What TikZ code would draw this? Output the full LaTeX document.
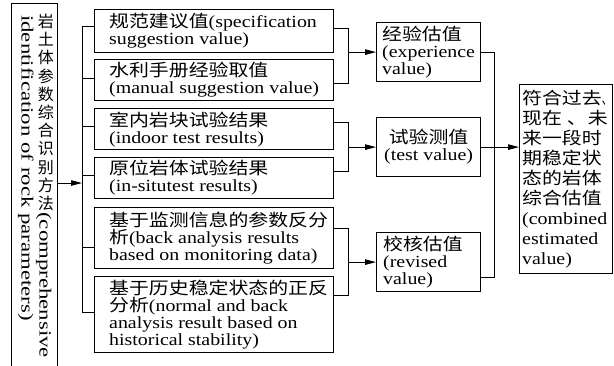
\documentclass[tikz,border=0pt]{standalone}
\usepackage{fontspec}
\usepackage{graphicx}
\setmainfont{Liberation Serif}[FakeStretch=1.17]
\newfontfamily\cjk{Noto Sans CJK SC}[FakeStretch=1.17]
\newfontfamily\lfont{Liberation Serif}[FakeStretch=1.34]
\newfontfamily\lcjk{Noto Sans CJK SC}
\usetikzlibrary{arrows.meta}
\newcommand\zh[1]{{\cjk #1}}
\newcommand\up[1]{\rotatebox[origin=c]{90}{\raisebox{0pt}[15.2pt][3pt]{\lcjk\fontsize{16pt}{16pt}\selectfont #1}}}
\begin{document}
\begin{tikzpicture}[x=1pt,y=-1pt,
  box/.style={draw, line width=1.2pt, inner sep=0pt, anchor=north west},
  txt/.style={inner sep=0pt, align=left, font=\fontsize{17pt}{17pt}\selectfont},
  conn/.style={line width=0.9pt},
  arr/.style={conn, -{Triangle[length=11pt,width=5.5pt]}}]
\useasboundingbox (0,0) rectangle (614,365);
% left box
\node[box, minimum width=46pt, minimum height=380pt] (L) at (11,3) {};
\node[rotate=-90, anchor=north west, inner sep=0pt, align=left,
      font=\lfont\fontsize{17pt}{18pt}\selectfont] (T) at (54,12)
 {\up{岩}\up{土}\up{体}\up{参}\up{数}\up{综}\up{合}\up{识}\up{别}\up{方}\up{法}(comprehensive\\\hspace*{3pt}identification of rock parameters)};
% middle boxes
\node[box, minimum width=239pt, minimum height=43pt] (b1) at (94,9) {};
\node[box, minimum width=239pt, minimum height=41pt] (b2) at (94,59) {};
\node[box, minimum width=239pt, minimum height=41pt] (b3) at (94,108) {};
\node[box, minimum width=239pt, minimum height=41pt] (b4) at (94,157) {};
\node[box, minimum width=239pt, minimum height=61pt] (b5) at (94,207) {};
\node[box, minimum width=239pt, minimum height=76pt] (b6) at (94,276) {};
\node[txt, anchor=west] (t1) at ([xshift=15pt]b1.west) {\zh{规范建议值}(specification\\suggestion value)};
\node[txt, anchor=west] (t2) at ([xshift=15pt]b2.west) {\zh{水利手册经验取值}\\(manual suggestion value)};
\node[txt, anchor=west] (t3) at ([xshift=15pt]b3.west) {\zh{室内岩块试验结果}\\(indoor test results)};
\node[txt, anchor=west] (t4) at ([xshift=15pt]b4.west) {\zh{原位岩体试验结果}\\(in-situtest results)};
\node[txt, anchor=west] (t5) at ([xshift=15pt]b5.west) {\zh{基于监测信息的参数反分}\\\zh{析}(back analysis results\\based on monitoring data)};
\node[txt, anchor=west] (t6) at ([xshift=15pt]b6.west) {\zh{基于历史稳定状态的正反}\\\zh{分析}(normal and back\\analysis result based on\\historical stability)};
% estimate boxes
\node[box, minimum width=104pt, minimum height=59pt] (exp) at (376,22) {};
\node[box, minimum width=104pt, minimum height=59pt] (tst) at (376,117) {};
\node[box, minimum width=104pt, minimum height=59pt] (rev) at (376,232) {};
\node[txt, anchor=west] (te) at ([xshift=6pt]exp.west) {\zh{经验估值}\\(experience\\value)};
\node[txt, align=center] (tt) at (tst.center) {\zh{试验测值}\\(test value)};
\node[txt, anchor=west] (tr) at ([xshift=7pt]rev.west) {\zh{校核估值}\\(revised\\value)};
% final box
\node[box, minimum width=93pt, minimum height=189pt] (fin) at (519,84) {};
\node[txt, anchor=west, font=\fontsize{17pt}{20pt}\selectfont] (tf) at ([xshift=3pt]fin.west)
 {\zh{符合过去}\scalebox{0.5}[1]{\zh{、}}\\\zh{现在}\hspace{5pt}\zh{、}\hspace{1pt}\zh{未}\\\zh{来一段时}\\\zh{期稳定状}\\\zh{态的岩体}\\\zh{综合估值}\\(combined\\estimated\\value)};
% connectors
\coordinate (bus) at (82,0);
\coordinate (br) at (348,0);
\coordinate (rb) at (494,0);
\coordinate (m) at (0,183);
\coordinate (l1) at ([yshift=4.5pt]b1.west);
\coordinate (l2) at ([yshift=1.5pt]b2.west);
\coordinate (l3) at ([yshift=2.5pt]b3.west);
\coordinate (l4) at ([yshift=2.5pt]b4.west);
\coordinate (l5) at ([yshift=-9.5pt]b5.west);
\coordinate (l6) at ([yshift=2pt]b6.west);
\coordinate (r1) at ([yshift=2.5pt]b1.east);
\coordinate (r2) at ([yshift=-3.5pt]b2.east);
\coordinate (r3) at ([yshift=6.5pt]b3.east);
\coordinate (r4) at ([yshift=6.5pt]b4.east);
\coordinate (r5) at ([yshift=9.5pt]b5.east);
\coordinate (r6) at ([yshift=19pt]b6.east);
\coordinate (q) at ([yshift=-15.5pt]rev.east);
\draw[conn] (l1 -| bus) -- (l6 -| bus);
\foreach \i in {1,...,6} {\draw[conn] (l\i) -- (l\i -| bus);}
\draw[arr] (L.east |- m) -- (bus |- m);
\draw[conn] (r1) -- (r1 -| br) -- (r2 -| br) -- (r2);
\draw[conn] (r3) -- (r3 -| br) -- (r4 -| br) -- (r4);
\draw[conn] (r5) -- (r5 -| br) -- (r6 -| br) -- (r6);
\draw[arr] (exp.west -| br) -- (exp.west);
\draw[arr] (tst.west -| br) -- (tst.west);
\draw[arr] (rev.west -| br) -- (rev.west);
\draw[conn] (exp.east) -- (exp.east -| rb) -- (q -| rb) -- (q);
\draw[arr] (tst.east) -- (tst.east -| fin.west);
\end{tikzpicture}
\end{document}
